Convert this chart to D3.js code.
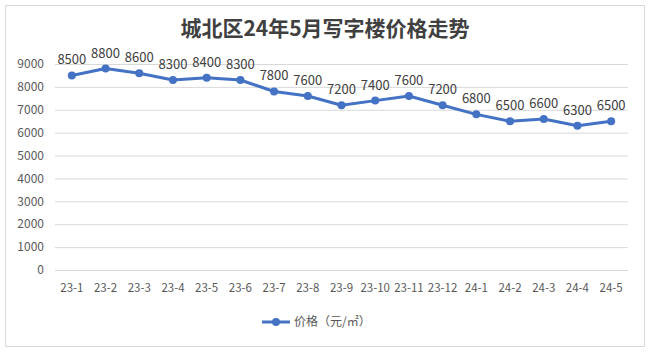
<!DOCTYPE html>
<html>
<head>
<meta charset="utf-8">
<script src="https://cdn.jsdelivr.net/npm/d3@7"></script>
<style>
  html, body { margin: 0; padding: 0; background: #fff; }
  svg { display: block; }
</style>
</head>
<body>
<div id="chart"></div>
<script>
// Months and office prices (元/㎡)
const months = ["23-1", "23-2", "23-3", "23-4", "23-5", "23-6", "23-7", "23-8", "23-9",
  "23-10", "23-11", "23-12", "24-1", "24-2", "24-3", "24-4", "24-5"];
const prices = [8500, 8800, 8600, 8300, 8400, 8300, 7800, 7600, 7200,
  7400, 7600, 7200, 6800, 6500, 6600, 6300, 6500];
const yTicks = [0, 1000, 2000, 3000, 4000, 5000, 6000, 7000, 8000, 9000];
const seriesName = "价格（元/㎡）";
const title = "城北区24年5月写字楼价格走势";

const W = 650, H = 352;
const margin = { top: 64, right: 22, bottom: 82, left: 55 };
const width = W - margin.left - margin.right;
const height = H - margin.top - margin.bottom;
const blue = "#4472C4";
const font = "'Microsoft YaHei', 'Noto Sans CJK SC', sans-serif";

const root = d3.select("#chart").append("svg")
  .attr("width", W)
  .attr("height", H)
  .style("font-family", font);

// outer frame
root.append("rect")
  .attr("x", 5.5).attr("y", 5.5)
  .attr("width", W - 11).attr("height", H - 11)
  .attr("fill", "#fff")
  .attr("stroke", "#d9d9d9");

root.append("text")
  .attr("x", W / 2)
  .attr("y", 36)
  .attr("text-anchor", "middle")
  .attr("font-size", "21px")
  .attr("font-weight", "bold")
  .attr("fill", "#404040")
  .text(title);

const svg = root.append("g")
  .attr("transform", `translate(${margin.left},${margin.top})`);

const x = d3.scalePoint()
  .domain(months)
  .range([0, width])
  .padding(0.5);

const y = d3.scaleLinear()
  .domain([0, 9000])
  .range([height, 0]);

// gridlines
svg.append("g")
  .selectAll("line")
  .data(yTicks)
  .join("line")
  .attr("x1", 0).attr("x2", width)
  .attr("y1", d => y(d) + 0.5).attr("y2", d => y(d) + 0.5)
  .attr("stroke", "#d9d9d9");

// y axis labels
svg.append("g")
  .selectAll("text")
  .data(yTicks)
  .join("text")
  .attr("x", -11)
  .attr("y", d => y(d))
  .attr("dy", "0.35em")
  .attr("text-anchor", "end")
  .attr("font-size", "12px")
  .attr("fill", "#595959")
  .text(d => d);

// x axis labels
svg.append("g")
  .selectAll("text")
  .data(months)
  .join("text")
  .attr("x", d => x(d))
  .attr("y", height + 22)
  .attr("text-anchor", "middle")
  .attr("font-size", "11.5px")
  .attr("fill", "#595959")
  .text(d => d);

const line = d3.line()
  .x((d, i) => x(months[i]))
  .y(d => y(d));

svg.append("path")
  .datum(prices)
  .attr("d", line)
  .attr("fill", "none")
  .attr("stroke", blue)
  .attr("stroke-width", 3)
  .attr("stroke-linejoin", "round");

svg.append("g")
  .selectAll("circle")
  .data(prices)
  .join("circle")
  .attr("cx", (d, i) => x(months[i]))
  .attr("cy", d => y(d))
  .attr("r", 4)
  .attr("fill", blue);

// data labels
svg.append("g")
  .selectAll("text")
  .data(prices)
  .join("text")
  .attr("x", (d, i) => x(months[i]))
  .attr("y", d => y(d) - 11)
  .attr("text-anchor", "middle")
  .attr("font-size", "13px")
  .attr("fill", "#404040")
  .text(d => d);

// legend
const lg = root.append("g").attr("transform", "translate(262,322)");
lg.append("line")
  .attr("x1", 0).attr("x2", 28)
  .attr("stroke", blue).attr("stroke-width", 3);
lg.append("circle").attr("cx", 14).attr("r", 4).attr("fill", blue);
lg.append("text")
  .attr("x", 32)
  .attr("dy", "0.35em")
  .attr("font-size", "12px")
  .attr("fill", "#595959")
  .text(seriesName);
</script>
</body>
</html>
